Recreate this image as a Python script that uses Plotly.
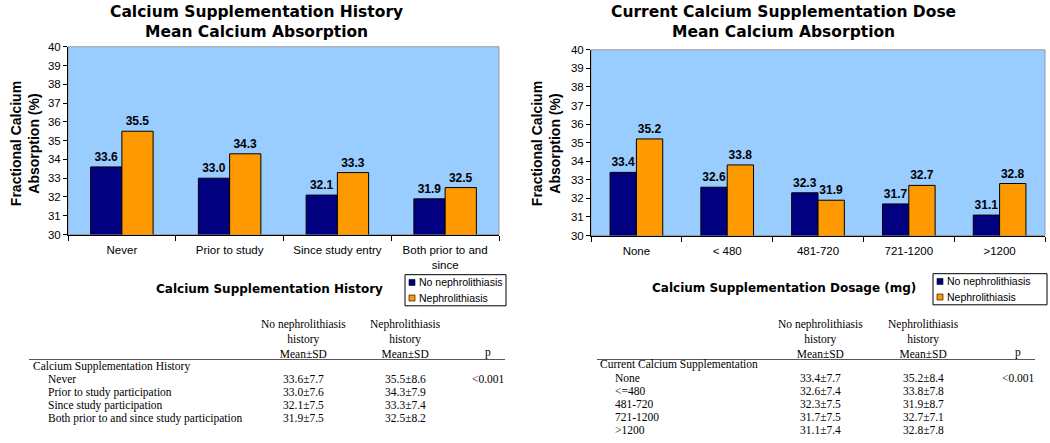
import plotly.graph_objects as go

# ---------------- data ----------------
hist_categories = ["Never", "Prior to study", "Since study entry", "Both prior to and<br>since"]
hist_no = [33.6, 33.0, 32.1, 31.9]
hist_yes = [35.5, 34.3, 33.3, 32.5]

dose_categories = ["None", "< 480", "481-720", "721-1200", ">1200"]
dose_no = [33.4, 32.6, 32.3, 31.7, 31.1]
dose_yes = [35.2, 33.8, 31.9, 32.7, 32.8]

series_names = ["No nephrolithiasis", "Nephrolithiasis"]

hist_rows = ["Never", "Prior to study participation", "Since study participation",
             "Both prior to and since study participation"]
hist_no_sd = [7.7, 7.6, 7.5, 7.5]
hist_yes_sd = [8.6, 7.9, 7.4, 8.2]

dose_rows = ["None", "<=480", "481-720", "721-1200", ">1200"]
dose_no_sd = [7.7, 7.4, 7.5, 7.5, 7.4]
dose_yes_sd = [8.4, 7.8, 8.7, 7.1, 7.8]

p_value = "<0.001"

# ---------------- styling ----------------
W, H = 1050, 443
NAVY = "#000080"
ORANGE = "#FF9900"
COLORS = [NAVY, ORANGE]
PLOTBG = "#99CCFF"
SANS = "Liberation Sans, Arial, sans-serif"
WIDE = "DejaVu Sans, Verdana, sans-serif"
SERIF = "Liberation Serif, Times New Roman, serif"

# the captured page maps figure y to screen y as  y_screen ~= 5.4 + 0.969 * y_fig
Y_OFF, Y_SCALE = 5.4, 0.969


def px(x):
    return x / W


def py(y):
    return 1 - ((y - Y_OFF) / Y_SCALE) / H


fig = go.Figure()

bar_common = dict(
    texttemplate="%{y:.1f}", textposition="outside", cliponaxis=False,
    textfont=dict(family=SANS, size=12, color="black", weight="bold"),
    marker_line=dict(color="black", width=1), showlegend=False, hoverinfo="skip",
)

fig.add_trace(go.Bar(x=hist_categories, y=hist_no, name=series_names[0],
                     marker_color=COLORS[0], xaxis="x", yaxis="y", **bar_common))
fig.add_trace(go.Bar(x=hist_categories, y=hist_yes, name=series_names[1],
                     marker_color=COLORS[1], xaxis="x", yaxis="y", **bar_common))
fig.add_trace(go.Bar(x=dose_categories, y=dose_no, name=series_names[0],
                     marker_color=COLORS[0], xaxis="x2", yaxis="y2", **bar_common))
fig.add_trace(go.Bar(x=dose_categories, y=dose_yes, name=series_names[1],
                     marker_color=COLORS[1], xaxis="x2", yaxis="y2", **bar_common))

xcommon = dict(showline=True, linecolor="black", linewidth=1, ticks="outside", ticklen=5,
               tickcolor="black", tickson="boundaries", showgrid=False,
               tickfont=dict(family=SANS, size=11.5, color="black"), ticklabelstandoff=5,
               fixedrange=True)
ycommon = dict(range=[30, 40], dtick=1, showline=True, linecolor="black", linewidth=1,
               ticks="outside", ticklen=4, tickcolor="black", showgrid=False, zeroline=False,
               tickfont=dict(family=SANS, size=11.5, color="black"), fixedrange=True)

fig.update_layout(
    width=W, height=H, margin=dict(l=0, r=0, t=0, b=0),
    paper_bgcolor="white", plot_bgcolor=PLOTBG,
    barmode="group", bargap=0.42, bargroupgap=0,
    showlegend=False,
    xaxis=dict(domain=[px(68), px(499)], anchor="y", **xcommon),
    yaxis=dict(domain=[py(233), py(46)], anchor="x", **ycommon),
    xaxis2=dict(domain=[px(591), px(1045)], anchor="y2", **xcommon),
    yaxis2=dict(domain=[py(234), py(49)], anchor="x2", **ycommon),
)

# plot area borders (grey frame)
for xr, yr in (("x domain", "y domain"), ("x2 domain", "y2 domain")):
    fig.add_shape(type="rect", xref=xr, yref=yr, x0=0, x1=1, y0=0, y1=1,
                  line=dict(color="#9a9a9a", width=1), layer="below")

annotations = []


def ann(text, x, y, size, family=SANS, bold=False, xanchor="center", yanchor="middle",
        textangle=0, align="center"):
    annotations.append(dict(
        text=text, x=px(x), y=py(y), xref="paper", yref="paper", showarrow=False,
        xanchor=xanchor, yanchor=yanchor, textangle=textangle, align=align,
        font=dict(family=family, size=size, color="black", weight="bold" if bold else "normal"),
    ))


# chart titles
ann("Calcium Supplementation History<br>Mean Calcium Absorption", 256, 21.5, 15.5, family=WIDE, bold=True)
ann("Current Calcium Supplementation Dose<br>Mean Calcium Absorption", 783, 21.5, 15.5, family=WIDE, bold=True)

# y axis titles
ann("Fractional Calcium<br>Absorption (%)", 25, 143, 14, bold=True, textangle=-90)
ann("Fractional Calcium<br>Absorption (%)", 546, 143, 14, bold=True, textangle=-90)

# x axis titles
ann("Calcium Supplementation History", 269, 287, 12, family=WIDE, bold=True)
ann("Calcium Supplementation Dosage (mg)", 784, 286, 12, family=WIDE, bold=True)


# ---------------- legends (boxed, drawn) ----------------
def legend_box(x0, y0, x1, y1):
    fig.add_shape(type="rect", xref="paper", yref="paper", x0=px(x0), x1=px(x1),
                  y0=py(y1), y1=py(y0), line=dict(color="black", width=1),
                  fillcolor="white")
    row_h = (y1 - y0) / 2
    for i, name in enumerate(series_names):
        cy = y0 + row_h * (i + 0.5)
        fig.add_shape(type="rect", xref="paper", yref="paper",
                      x0=px(x0 + 4), x1=px(x0 + 10), y0=py(cy + 3), y1=py(cy - 3),
                      line=dict(color="black", width=0.6), fillcolor=COLORS[i])
        ann(name, x0 + 12, cy, 10.5, xanchor="left")


legend_box(405, 273, 506, 304)
legend_box(933, 272, 1047, 303)

# ---------------- tables ----------------
TS = 11.5


def table(x_label, x_indent, x_c1, x_c2, x_p, line_x0, line_x1, header_text, rows, no_vals,
          no_sd, yes_vals, yes_sd, row_y0, row_dy):
    ann("No nephrolithiasis<br>history<br>Mean±SD", x_c1, 337, TS, family=SERIF)
    ann("Nephrolithiasis<br>history<br>Mean±SD", x_c2, 337, TS, family=SERIF)
    ann("p", x_p, 350.5, TS, family=SERIF)
    fig.add_shape(type="line", xref="paper", yref="paper", x0=px(line_x0), x1=px(line_x1),
                  y0=py(357.5), y1=py(357.5), line=dict(color="#555555", width=1))
    ann(header_text, x_label, row_y0, TS, family=SERIF, xanchor="left")
    for i, r in enumerate(rows):
        yy = row_y0 + row_dy * (i + 1)
        ann(r, x_indent, yy, TS, family=SERIF, xanchor="left")
        ann(f"{no_vals[i]:.1f}±{no_sd[i]:.1f}", x_c1, yy, TS, family=SERIF)
        ann(f"{yes_vals[i]:.1f}±{yes_sd[i]:.1f}", x_c2, yy, TS, family=SERIF)
        if i == 0:
            ann(p_value, x_p, yy, TS, family=SERIF)


table(31, 46, 303, 405, 488, 29, 505, "Calcium Supplementation History", hist_rows,
      hist_no, hist_no_sd, hist_yes, hist_yes_sd, 364, 13)
table(598, 613, 820, 923, 1018, 597, 1035, "Current Calcium Supplementation", dose_rows,
      dose_no, dose_no_sd, dose_yes, dose_yes_sd, 362.5, 13)

fig.update_layout(annotations=annotations)

fig.write_html("out.html", config={"displayModeBar": False},
               post_script="document.body.style.margin='0';document.body.style.overflow='hidden';")
